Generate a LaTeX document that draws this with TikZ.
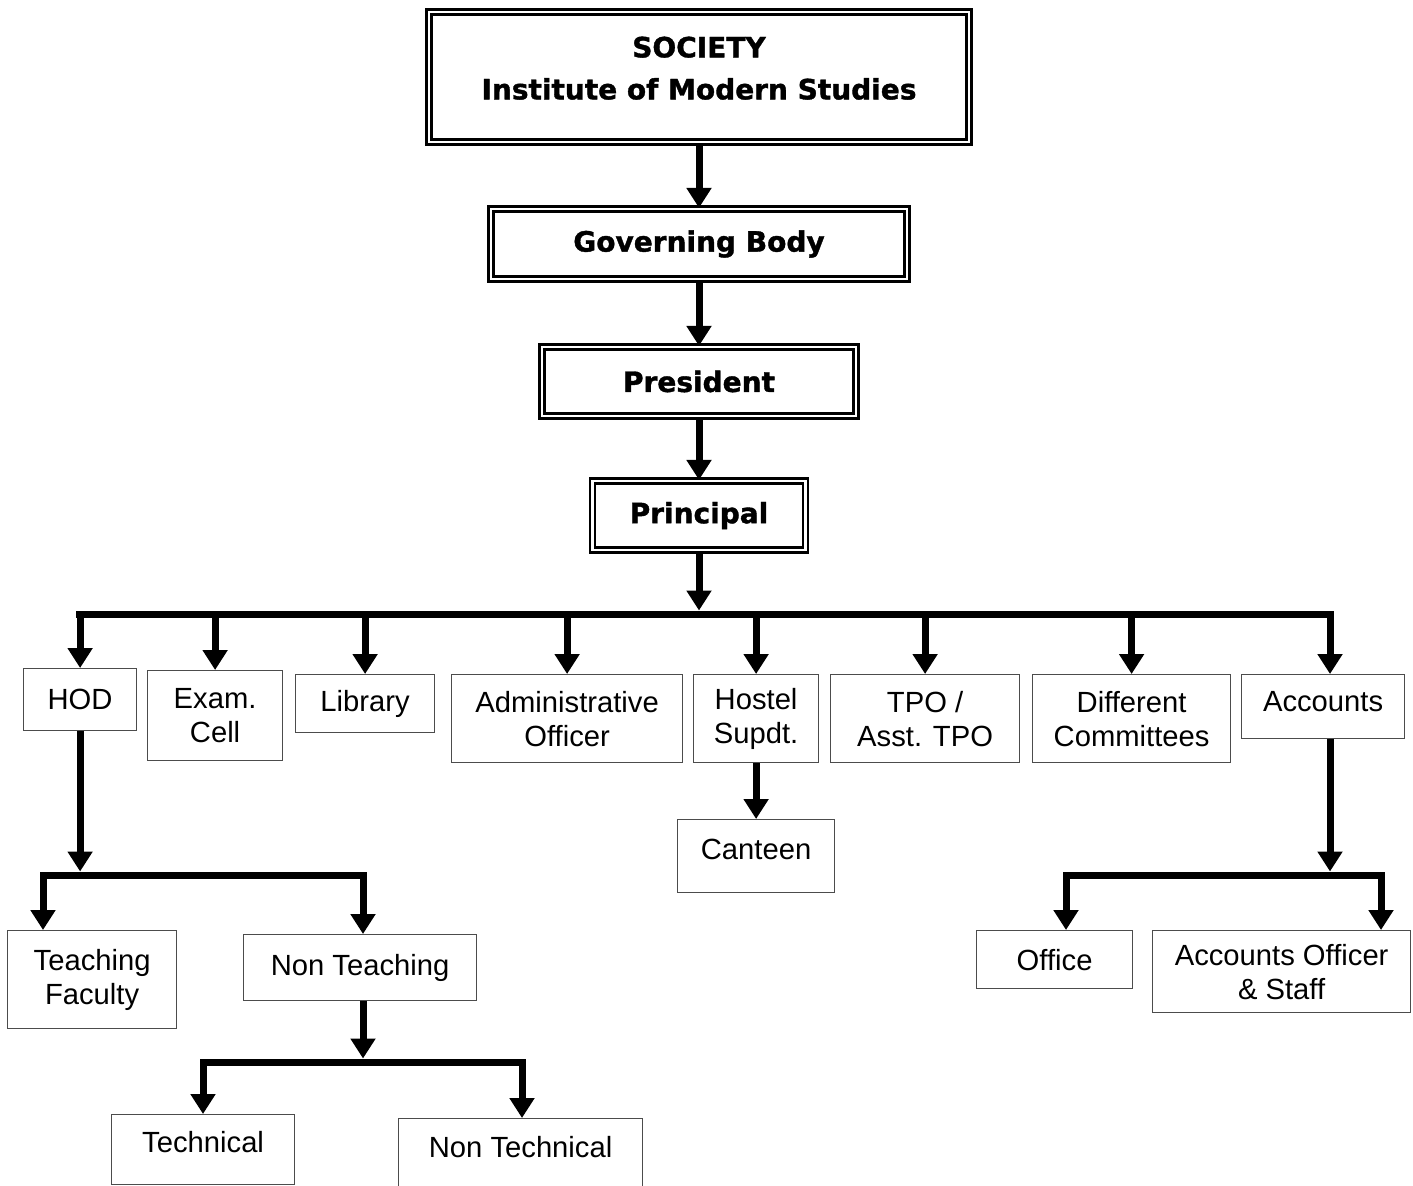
\documentclass[tikz,border=0pt]{standalone}
\usepackage{fontspec}
\setmainfont{Liberation Sans}
\newfontfamily\headfont{DejaVu Sans}[BoldFeatures={FakeBold=1.3}]
\usetikzlibrary{arrows.meta}

\tikzset{
    topbox/.style={draw,double,double distance=1.4pt,line width=1.1pt,align=center,inner sep=0pt,
        font={\headfont\bfseries\fontsize{14}{21}\selectfont}},
    unitbox/.style={draw=black!70,line width=0.6pt,align=center,anchor=north west,inner sep=0pt,
        font={\fontsize{14.6}{17}\selectfont}},
    link/.style={line width=3.5pt,-{Triangle[width=12pt,length=10pt]}},
    tobus/.style={link,shorten >=1.75pt},
    busline/.style={line width=3.5pt,line cap=rect}
}

\begin{document}
\begin{tikzpicture}[x=0.5pt,y=-0.5pt]
                \useasboundingbox (0,0) rectangle (1413,1185);
                \clip (0,0) rectangle (1413,1185);
                \node [topbox,minimum width=270pt,minimum height=65pt,text depth=9pt] (society) at (699,77) {SOCIETY\\Institute of Modern Studies};
                \node [topbox,minimum width=208pt,minimum height=35pt] (govbody) at (699,244) {Governing Body};
                \node [topbox,minimum width=157pt,minimum height=34.5pt] (president) at (699,381.5) {President};
                \node [topbox,minimum width=106.5pt,minimum height=34.5pt] (principal) at (699,515.5) {Principal};
                \node [unitbox,minimum width=56.5pt,minimum height=31pt] (hod) at (23,668) {HOD};
                \node [unitbox,minimum width=67.5pt,minimum height=45pt] (exam) at (147,670) {Exam.\\Cell};
                \node [unitbox,minimum width=69.5pt,minimum height=29pt] (library) at (295,674) {Library};
                \node [unitbox,minimum width=115.5pt,minimum height=44pt] (admin) at (451,674) {Administrative\\Officer};
                \node [unitbox,minimum width=62.5pt,minimum height=44pt] (hostel) at (693,674) {Hostel\\Supdt.};
                \node [unitbox,minimum width=94.5pt,minimum height=44pt] (tpo) at (830,674) {TPO /\\Asst. TPO};
                \node [unitbox,minimum width=99pt,minimum height=44pt] (committees) at (1032,674) {Different\\Committees};
                \node [unitbox,minimum width=81.5pt,minimum height=32pt,text depth=5pt] (accounts) at (1241,674) {Accounts};
                \node [unitbox,minimum width=78.5pt,minimum height=36.5pt,text depth=7pt] (canteen) at (677,819) {Canteen};
                \node [unitbox,minimum width=84.5pt,minimum height=49pt] (teaching) at (7,930) {Teaching\\Faculty};
                \node [unitbox,minimum width=116.5pt,minimum height=33pt] (nonteaching) at (243,934) {Non Teaching};
                \node [unitbox,minimum width=91.5pt,minimum height=35pt,text depth=8pt] (technical) at (111,1114) {Technical};
                \node [unitbox,minimum width=122pt,minimum height=40pt,text depth=12pt] (nontechnical) at (398,1118) {Non Technical};
                \node [unitbox,minimum width=78pt,minimum height=29pt] (office) at (976,930) {Office};
                \node [unitbox,minimum width=129pt,minimum height=41pt] (accstaff) at (1152,930) {Accounts Officer\\\& Staff};
                \coordinate (busL) at (79.5,614);
                \coordinate (busR) at (1330,614);
                \coordinate (fac1) at (43,875);
                \coordinate (fac2) at (363,875);
                \coordinate (tech1) at (203,1062);
                \coordinate (tech2) at (522,1062);
                \coordinate (acc1) at (1066,875);
                \coordinate (acc2) at (1381,875);
                \draw [link] (society) -- (govbody);
                \draw [link] (govbody) -- (president);
                \draw [link] (president) -- (principal);
                \draw [tobus] (principal) -- (principal |- busL);
                \draw [busline] (busL) -- (busR);
                \foreach \unit in {hod,exam,library,admin,hostel,tpo,committees}
                    \draw [link] (\unit.north |- busL) -- (\unit.north);
                \draw [link] (busR) -- (busR |- accounts.north);
                \draw [link] (hostel) -- (canteen);
                \draw [tobus] (hod) -- (hod |- fac1);
                \draw [busline] (fac1) -- (fac2);
                \draw [link] (fac1) -- (fac1 |- teaching.north);
                \draw [link] (fac2) -- (fac2 |- nonteaching.north);
                \draw [tobus] (fac2 |- nonteaching.south) -- (fac2 |- tech1);
                \draw [busline] (tech1) -- (tech2);
                \draw [link] (tech1) -- (tech1 |- technical.north);
                \draw [link] (tech2) -- (tech2 |- nontechnical.north);
                \draw [tobus] (busR |- accounts.south) -- (busR |- acc1);
                \draw [busline] (acc1) -- (acc2);
                \draw [link] (acc1) -- (acc1 |- office.north);
                \draw [link] (acc2) -- (acc2 |- accstaff.north);
            \end{tikzpicture}
\end{document}
